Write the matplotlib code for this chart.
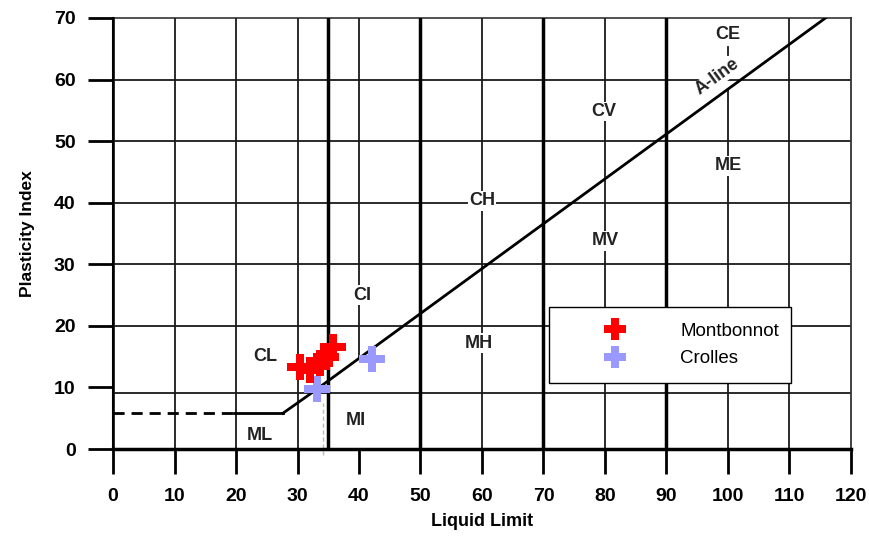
import matplotlib
matplotlib.use("Agg")
import matplotlib.pyplot as plt
import numpy as np

plt.rcParams['font.family'] = ['Liberation Sans', 'DejaVu Sans']

# Data
mont_ll = [30.4, 32.0, 33.7, 34.7, 35.8]
mont_pi = [13.4, 12.9, 13.9, 15.0, 16.6]
crol_ll = [33.1, 42.1]
crol_pi = [9.7, 14.6]

zone_labels = ["CL", "ML", "CI", "MI", "CH", "MH", "CV", "MV", "CE", "ME"]
zone_ll = [24.8, 23.8, 40.5, 39.4, 60.0, 59.5, 79.8, 80.0, 100.0, 100.0]
zone_pi = [15.0, 2.2, 25.0, 4.7, 40.3, 17.2, 54.8, 33.8, 67.3, 46.0]

xticks = list(range(0, 121, 10))
yticks = list(range(0, 71, 10))

fig = plt.figure(figsize=(8.7, 5.43), dpi=100)
ax = fig.add_axes([0.130, 0.173, 0.848, 0.794])
ax.set_xlim(0, 120)
ax.set_ylim(0, 70)

lc = '#1a1a1a'
def aline(x):
    return 0.73 * (np.asarray(x) - 20)

# horizontal grid lines
for y in [9.1, 20, 30, 40, 50, 60]:
    ax.plot([0, 120], [y, y], color=lc, lw=1.3, zorder=1)
ax.plot([0, 120], [70, 70], color='#444444', lw=1.3, zorder=1, clip_on=False)
# vertical thin lines
for x in [10, 20, 30, 60, 80, 110]:
    ax.plot([x, x], [0, 70], color=lc, lw=1.3, zorder=1)
ax.plot([120, 120], [0, 70], color='#333333', lw=1.3, zorder=1, clip_on=False)
ax.plot([0, 0], [0, 70], color=lc, lw=2.0, zorder=1, clip_on=False)
ax.plot([40, 40], [float(aline(40)), 70], color=lc, lw=1.3, zorder=1)
ax.plot([100, 100], [0, float(aline(100))], color=lc, lw=1.3, zorder=1)
ax.plot([100, 100], [64.0, 65.3], color=lc, lw=1.3, zorder=1)
for x in [35, 50, 70, 90]:
    ax.plot([x, x], [0, 70], color='black', lw=2.5, zorder=1)

# A-line and low part
ax.plot([27.6, 32.0, 115.9], [5.8, 8.9, float(aline(115.9))], color='black', lw=2.0, zorder=2)
ax.plot([0, 19.6], [5.8, 5.8], color='black', lw=2.0, ls=(0, (4, 2.5)), zorder=2)
ax.plot([19.6, 27.6], [5.8, 5.8], color='black', lw=2.0, zorder=2)
ax.plot([34.2, 34.2], [-1, 7.5], color='#bbbbbb', lw=1.0, ls=(0, (3, 2)), zorder=2, clip_on=False)

# zone labels
for t, x, y in zip(zone_labels, zone_ll, zone_pi):
    ax.text(x, y, t, ha='center', va='center', fontsize=13, fontweight='bold', color='#222222',
            bbox=dict(facecolor='white', edgecolor='none', pad=1.0), zorder=3)
ax.text(98.3, 60.4, "A-line", ha='center', va='center', fontsize=13, fontweight='bold', rotation=36,
        color='#222222', bbox=dict(facecolor='white', edgecolor='none', pad=0.3), zorder=3)

# data
ax.plot(crol_ll, crol_pi, 'P', color='#9999ff', markersize=19, markeredgewidth=0, ls='none',
        label='Crolles', zorder=5)
ax.plot(mont_ll, mont_pi, 'P', color='#ff0000', markersize=19, markeredgewidth=0, ls='none',
        label='Montbonnot', zorder=6)

h, l = ax.get_legend_handles_labels()
leg = ax.legend(h[::-1], l[::-1], loc='upper left', bbox_to_anchor=(0.591, 0.329, 0.328, 0),
                mode='expand', fontsize=13.5, handlelength=5.4, handletextpad=0.77,
                labelspacing=0.55, borderpad=0.82, numpoints=1, fancybox=False,
                framealpha=1, edgecolor='black', borderaxespad=0, markerscale=0.85)
leg.get_frame().set_linewidth(1.0)
leg.set_zorder(10)

# spines & ticks
for s in ['top', 'right']:
    ax.spines[s].set_visible(False)
ax.spines['left'].set_linewidth(1.5)
ax.spines['bottom'].set_linewidth(2.5)
ax.set_xticks(xticks)
ax.set_yticks(yticks)
ax.tick_params(axis='both', direction='out', length=18, width=2, labelsize=14)
ax.tick_params(axis='x', pad=10)
ax.tick_params(axis='y', pad=9)
for lab in ax.get_xticklabels() + ax.get_yticklabels():
    lab.set_fontweight('bold')
ax.set_xlabel('Liquid Limit', fontsize=13, fontweight='bold', labelpad=6)
ax.set_ylabel('Plasticity Index', fontsize=12.5, fontweight='bold', labelpad=14)

fig.savefig('out.png', dpi=100)
